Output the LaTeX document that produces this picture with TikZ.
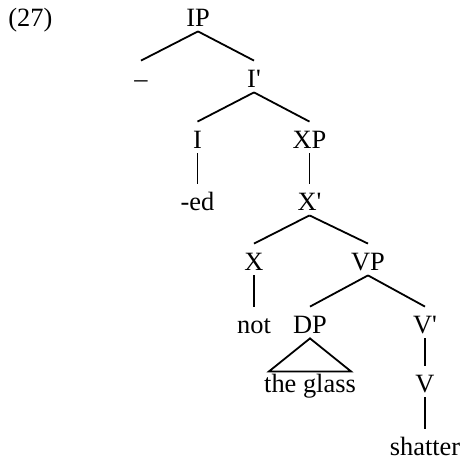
\documentclass[tikz,border=0pt]{standalone}
\usepackage{fontspec}
\setmainfont{Liberation Serif}
\begin{document}
\begin{tikzpicture}[x=0.5pt,y=-0.5pt,
  lbl/.style={inner sep=0pt, text height=13pt, text depth=2.5pt, anchor=base,
    font=\fontsize{13.2}{15}\selectfont},
  edge/.style={line width=0.9pt, line join=miter}]
\useasboundingbox (0,0) rectangle (462,461);
\node[lbl, anchor=base west] (ex) at (8,26) {(27)};
\node[lbl] (ip) at (198,26) {IP};
\node[lbl] (spec) at (141,87) {–};
\node[lbl] (ibar) at (254,87) {I\textquotesingle};
\node[lbl] (i) at (197.5,148) {I};
\node[lbl] (xp) at (309.5,148) {XP};
\node[lbl] (ed) at (197.5,210) {-ed};
\node[lbl] (xbar) at (309.5,210) {X\textquotesingle};
\node[lbl] (x) at (254,270) {X};
\node[lbl] (vp) at (368,270) {VP};
\node[lbl] (not) at (254,333) {not};
\node[lbl] (dp) at (310,333) {DP};
\node[lbl] (vbar) at (425,333) {V\textquotesingle};
\node[lbl] (glass) at (310,392) {the glass};
\node[lbl] (v) at (425,392) {V};
\node[lbl] (shatter) at (425,455) {shatter};
\draw[edge] (ip.south) -- (spec.north);
\draw[edge] (ip.south) -- (ibar.north);
\draw[edge] (ibar.south) -- (i.north);
\draw[edge] (ibar.south) -- (xp.north);
\draw[edge] (i.south) -- (ed.north);
\draw[edge] (xp.south) -- (xbar.north);
\draw[edge] (xbar.south) -- (x.north);
\draw[edge] (xbar.south) -- (vp.north);
\draw[edge] (x.south) -- (not.north);
\draw[edge] (vp.south) -- (dp.north);
\draw[edge] (vp.south) -- (vbar.north);
\draw[edge] (dp.south) -- ++(-41,33) -- ++(82,0) -- cycle;
\draw[edge] (vbar.south) -- (v.north);
\draw[edge] (v.south) -- (shatter.north);
\end{tikzpicture}
\end{document}
